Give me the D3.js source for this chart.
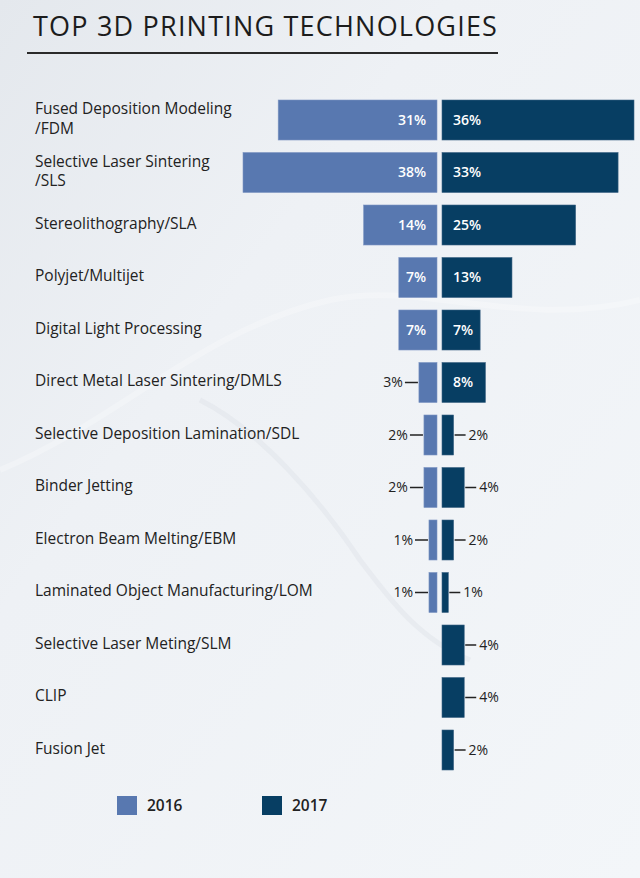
<!DOCTYPE html>
<html>
<head>
<meta charset="utf-8">
<script src="https://cdn.jsdelivr.net/npm/d3@7"></script>
<style>
  html, body { margin: 0; padding: 0; background: #eef1f5; }
  svg { display: block; }
  text { font-family: "Open Sans", "Noto Sans", sans-serif; }
</style>
</head>
<body>
<div id="chart"></div>
<script>
const categories = [
  "Fused Deposition Modeling\n/FDM",
  "Selective Laser Sintering\n/SLS",
  "Stereolithography/SLA",
  "Polyjet/Multijet",
  "Digital Light Processing",
  "Direct Metal Laser Sintering/DMLS",
  "Selective Deposition Lamination/SDL",
  "Binder Jetting",
  "Electron Beam Melting/EBM",
  "Laminated Object Manufacturing/LOM",
  "Selective Laser Meting/SLM",
  "CLIP",
  "Fusion Jet"
];
const values2016 = [31, 38, 14, 7, 7, 3, 2, 2, 1, 1, null, null, null];
const values2017 = [36, 33, 25, 13, 7, 8, 2, 4, 2, 1, 4, 4, 2];
const seriesNames = ["2016", "2017"];

const W = 640, H = 878;
const c2016 = "#5878b0", c2017 = "#073e63";
const insideMin = 5; // values above this are labelled inside the bar

const svg = d3.select("#chart").append("svg").attr("width", W).attr("height", H);

// background
const defs = svg.append("defs");
const bg = defs.append("linearGradient").attr("id", "bg").attr("x1", 0).attr("y1", 0).attr("x2", 1).attr("y2", 1);
bg.append("stop").attr("offset", "0").attr("stop-color", "#e4e8ed");
bg.append("stop").attr("offset", "0.35").attr("stop-color", "#eef1f5");
bg.append("stop").attr("offset", "1").attr("stop-color", "#f3f6f9");
svg.append("rect").attr("width", W).attr("height", H).attr("fill", "url(#bg)");
// faint swooshes
svg.append("path").attr("d", "M0,470 C120,420 200,330 330,300 C420,280 520,330 640,300")
  .attr("fill", "none").attr("stroke", "#ffffff").attr("stroke-opacity", 0.25).attr("stroke-width", 6);
svg.append("path").attr("d", "M200,400 C260,430 320,500 360,560 C390,600 420,640 470,660")
  .attr("fill", "none").attr("stroke", "#dfe3e9").attr("stroke-opacity", 0.5).attr("stroke-width", 5);

// title
svg.append("text").attr("x", 33).attr("y", 36)
  .attr("font-size", 27).attr("fill", "#1c1c1c").attr("letter-spacing", 1.2)
  .text("TOP 3D PRINTING TECHNOLOGIES");
svg.append("line").attr("x1", 27).attr("x2", 498).attr("y1", 53).attr("y2", 53)
  .attr("stroke", "#2a2a2a").attr("stroke-width", 2);

// scales
const y = d3.scaleBand().domain(categories).range([100, 770]).paddingInner(0.238).paddingOuter(0);
const centerL = 437, centerR = 442;
const xL = d3.scaleLinear().domain([0, 38]).range([3, 194]);
const xR = d3.scaleLinear().domain([0, 36]).range([1, 192]);

const rows = svg.append("g").selectAll("g").data(categories).join("g")
  .attr("transform", d => `translate(0,${y(d)})`);
const bh = y.bandwidth();

// category labels
rows.each(function(d) {
  const lines = d.split("\n");
  const g = d3.select(this);
  const t = g.append("text").attr("x", 35).attr("font-size", 15.5).attr("fill", "#222");
  const lh = 20;
  const start = bh / 2 - (lines.length - 1) * lh / 2 + 4;
  lines.forEach((ln, i) => t.append("tspan").attr("x", 35).attr("y", start + i * lh).text(ln));
});

// 2016 bars
rows.each(function(d, i) {
  const v = values2016[i];
  if (v == null) return;
  const g = d3.select(this);
  const w = xL(v);
  g.append("rect").attr("x", centerL - w).attr("y", 0).attr("width", w).attr("height", bh)
    .attr("fill", c2016).attr("stroke", "#7d95c2").attr("stroke-width", 0.6);
  if (v > insideMin) {
    g.append("text").attr("x", centerL - 11).attr("y", bh / 2 + 5).attr("text-anchor", "end")
      .attr("font-size", 14).attr("font-weight", 600).attr("fill", "#fff").text(v + "%");
  } else {
    const x0 = centerL - w;
    g.append("line").attr("x1", x0 - 14).attr("x2", x0 - 1).attr("y1", bh / 2).attr("y2", bh / 2)
      .attr("stroke", "#222").attr("stroke-width", 1.5);
    g.append("text").attr("x", x0 - 16).attr("y", bh / 2 + 5).attr("text-anchor", "end")
      .attr("font-size", 14).attr("fill", "#222").text(v + "%");
  }
});

// 2017 bars
rows.each(function(d, i) {
  const v = values2017[i];
  if (v == null) return;
  const g = d3.select(this);
  const w = xR(v);
  g.append("rect").attr("x", centerR).attr("y", 0).attr("width", w).attr("height", bh)
    .attr("fill", c2017).attr("stroke", "#3f6585").attr("stroke-width", 0.6);
  if (v > insideMin) {
    g.append("text").attr("x", centerR + 11).attr("y", bh / 2 + 5)
      .attr("font-size", 14).attr("font-weight", 600).attr("fill", "#fff").text(v + "%");
  } else {
    const x1 = centerR + w;
    g.append("line").attr("x1", x1 + 1).attr("x2", x1 + 12).attr("y1", bh / 2).attr("y2", bh / 2)
      .attr("stroke", "#222").attr("stroke-width", 1.5);
    g.append("text").attr("x", x1 + 15).attr("y", bh / 2 + 5)
      .attr("font-size", 14).attr("fill", "#222").text(v + "%");
  }
});

// legend
const legX = [117, 262];
const legColors = [c2016, c2017];
const leg = svg.append("g").selectAll("g").data(seriesNames).join("g")
  .attr("transform", (d, i) => `translate(${legX[i]},796)`);
leg.append("rect").attr("width", 20).attr("height", 19).attr("fill", (d, i) => legColors[i]);
leg.append("text").attr("x", 30).attr("y", 15).attr("font-size", 15.5).attr("font-weight", 600)
  .attr("fill", "#222").text(d => d);
</script>
</body>
</html>
